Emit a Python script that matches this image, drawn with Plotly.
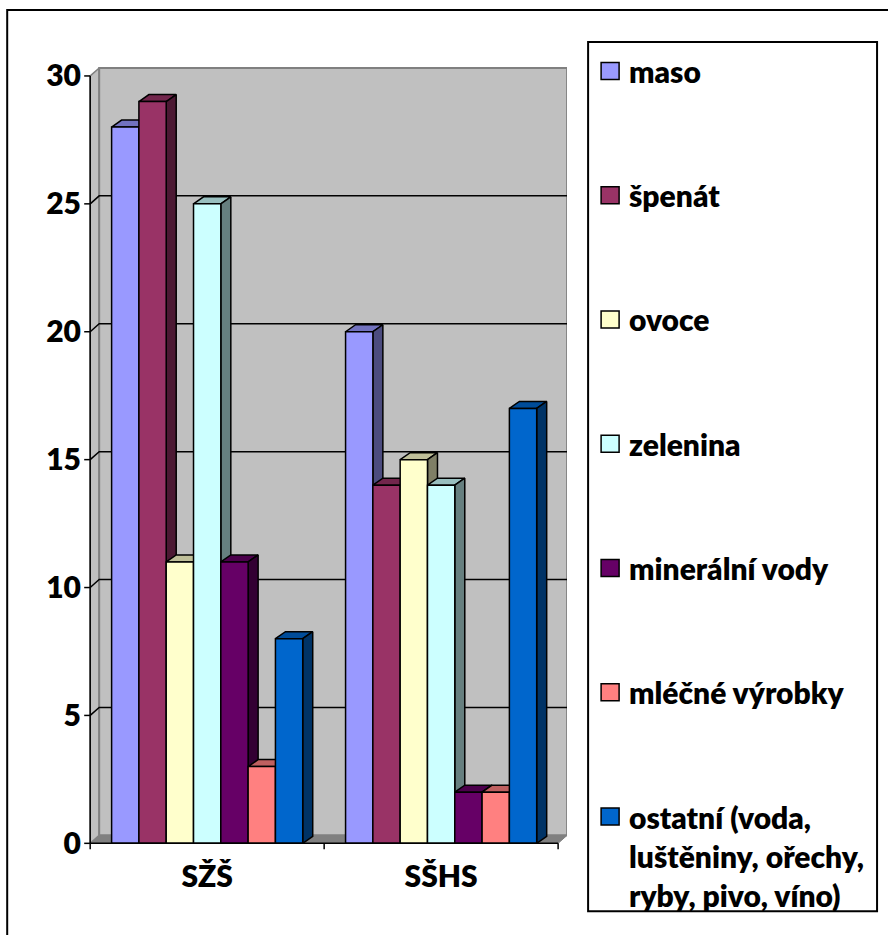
import plotly.graph_objects as go

# ---- data -------------------------------------------------------------
categories = ["SŽŠ", "SŠHS"]
series_names = ["maso", "špenát", "ovoce", "zelenina",
                "minerální vody", "mléčné výrobky",
                "ostatní (voda, luštěniny, ořechy, ryby, pivo, víno)"]
legend_labels = ["maso", "špenát", "ovoce", "zelenina",
                 "minerální vody", "mléčné výrobky",
                 "ostatní (voda,<br>luštěniny, ořechy,<br>ryby, pivo, víno)"]
maso = [28, 20]
spenat = [29, 14]
ovoce = [11, 15]
zelenina = [25, 14]
mineralni_vody = [11, 2]
mlecne_vyrobky = [3, 2]
ostatni = [8, 17]
series_values = [maso, spenat, ovoce, zelenina, mineralni_vody, mlecne_vyrobky, ostatni]
y_ticks = [0, 5, 10, 15, 20, 25, 30]

# ---- style ------------------------------------------------------------
colors = ["#9999FF", "#993366", "#FFFFCC", "#CCFFFF", "#660066", "#FF8080", "#0066CC"]
FONT = "Lato"
FSIZE = 30
FWEIGHT = 800

W, H = 888, 935
PX_X = 234.0          # pixels per x unit
PX_Y = 25.567         # pixels per y unit
X_ORIGIN, Y_ORIGIN = 90.0, 843.0   # pixel position of (0, 0)
X_RANGE = [-0.035, 2.038]
Y_RANGE = [-0.3, 30.35]

plot_l = X_ORIGIN + X_RANGE[0] * PX_X
plot_r = X_ORIGIN + X_RANGE[1] * PX_X
plot_t = Y_ORIGIN - Y_RANGE[1] * PX_Y
plot_b = Y_ORIGIN - Y_RANGE[0] * PX_Y

DXW, DYW = 9 / PX_X, 8 / PX_Y      # depth of the walls
DXB, DYB = 10 / PX_X, 7 / PX_Y     # depth of the columns
BW = 0.1167                        # column width
TICK_X = 6 / PX_X
TICK_Y = 6 / PX_Y


def shade(hexcol, f):
    h = hexcol.lstrip("#")
    r, g, b = (int(h[i:i + 2], 16) for i in (0, 2, 4))
    return "#%02X%02X%02X" % (int(r * f), int(g * f), int(b * f))


def px(xp):
    return (xp - plot_l) / (plot_r - plot_l)


def py(yp):
    return (plot_b - yp) / (plot_b - plot_t)


def poly(xs, ys, fill, line="#000000", lw=1.5):
    return go.Scatter(x=xs, y=ys, mode="lines", fill="toself", fillcolor=fill,
                      line=dict(color=line, width=lw), hoverinfo="skip",
                      showlegend=False)


def seg(xs, ys, color="#000000", lw=1.5):
    return go.Scatter(x=xs, y=ys, mode="lines", line=dict(color=color, width=lw),
                      hoverinfo="skip", showlegend=False)


fig = go.Figure()

n_cat = len(categories)
top_v = y_ticks[-1]

# walls and floor
fig.add_trace(poly([0, n_cat, n_cat + DXW, DXW, 0], [0, 0, DYW, DYW, 0], "#808080", "#808080", 1))
fig.add_trace(poly([0, DXW, DXW, 0, 0], [0, DYW, top_v + DYW, top_v, 0], "#C0C0C0", "#808080", 1.5))
fig.add_trace(poly([DXW, n_cat + DXW, n_cat + DXW, DXW, DXW],
                   [DYW, DYW, top_v + DYW, top_v + DYW, DYW], "#C0C0C0", "#808080", 2))

# gridlines along the side and back walls
gx, gy = [], []
for v in y_ticks[1:-1]:
    gx += [0, DXW, n_cat + DXW, None]
    gy += [v, v + DYW, v + DYW, None]
fig.add_trace(seg(gx, gy, "#000000", 1.5))

# columns
n_ser = len(series_values)
for i, vals in enumerate(series_values):
    tx, ty, sx, sy, fx, fy = [], [], [], [], [], []
    for c, v in enumerate(vals):
        x0 = c + 0.5 + (i - n_ser / 2) * BW
        x1 = x0 + BW
        tx += [x0, x1, x1 + DXB, x0 + DXB, x0, None]
        ty += [v, v, v + DYB, v + DYB, v, None]
        sx += [x1, x1 + DXB, x1 + DXB, x1, x1, None]
        sy += [0, DYB, v + DYB, v, 0, None]
        fx += [x0, x1, x1, x0, x0, None]
        fy += [0, 0, v, v, 0, None]
    fig.add_trace(poly(tx, ty, shade(colors[i], 0.75)))
    fig.add_trace(poly(sx, sy, shade(colors[i], 0.5)))
    fig.add_trace(go.Scatter(x=fx, y=fy, mode="lines", fill="toself",
                             fillcolor=colors[i], line=dict(color="#000000", width=1.5),
                             name=series_names[i], showlegend=False,
                             hovertemplate=series_names[i] + ": %{y}<extra></extra>"))

# axis lines and tick marks
fig.add_trace(seg([0, 0], [0, top_v], "#000000", 1.5))
fig.add_trace(seg([0, n_cat], [0, 0], "#000000", 1.5))
tkx, tky = [], []
for v in y_ticks:
    tkx += [-TICK_X, 0, None]
    tky += [v, v, None]
for c in range(n_cat + 1):
    tkx += [c, c, None]
    tky += [0, -TICK_Y, None]
fig.add_trace(seg(tkx, tky, "#000000", 1.5))

font = dict(family=FONT, size=FSIZE, color="#000000", weight=FWEIGHT)

# outer frame and legend box
shapes = [
    dict(type="rect", xref="paper", yref="paper", x0=px(7), y0=py(10), x1=px(900), y1=py(950),
         line=dict(color="#000000", width=2), fillcolor="rgba(0,0,0,0)", layer="below"),
    dict(type="rect", xref="paper", yref="paper", x0=px(588), y0=py(42), x1=px(877), y1=py(911),
         line=dict(color="#000000", width=2), fillcolor="#FFFFFF", layer="below"),
]
annotations = []
for i, lab in enumerate(legend_labels):
    cy = 71 + 124.2 * i
    shapes.append(dict(type="rect", xref="paper", yref="paper",
                       x0=px(601), x1=px(619), y0=py(cy - 8.5), y1=py(cy + 8.5),
                       line=dict(color="#000000", width=1.5), fillcolor=colors[i]))
    annotations.append(dict(xref="paper", yref="paper", x=px(627), y=py(cy - 20),
                            xanchor="left", yanchor="top", align="left", showarrow=False,
                            text=lab, font=font))

fig.update_layout(
    width=W, height=H, autosize=False,
    margin=dict(l=plot_l, r=W - plot_r, t=plot_t, b=H - plot_b, pad=0),
    paper_bgcolor="#FFFFFF", plot_bgcolor="rgba(0,0,0,0)",
    showlegend=False, shapes=shapes, annotations=annotations,
    xaxis=dict(range=X_RANGE, showgrid=False, zeroline=False, showline=False,
               tickmode="array", tickvals=[c + 0.5 for c in range(n_cat)], ticktext=categories,
               ticks="", ticklabelstandoff=5, tickfont=font),
    yaxis=dict(range=Y_RANGE, showgrid=False, zeroline=False, showline=False,
               tickmode="array", tickvals=y_ticks, ticks="", tickfont=font),
)

fig.write_html("out.html")
